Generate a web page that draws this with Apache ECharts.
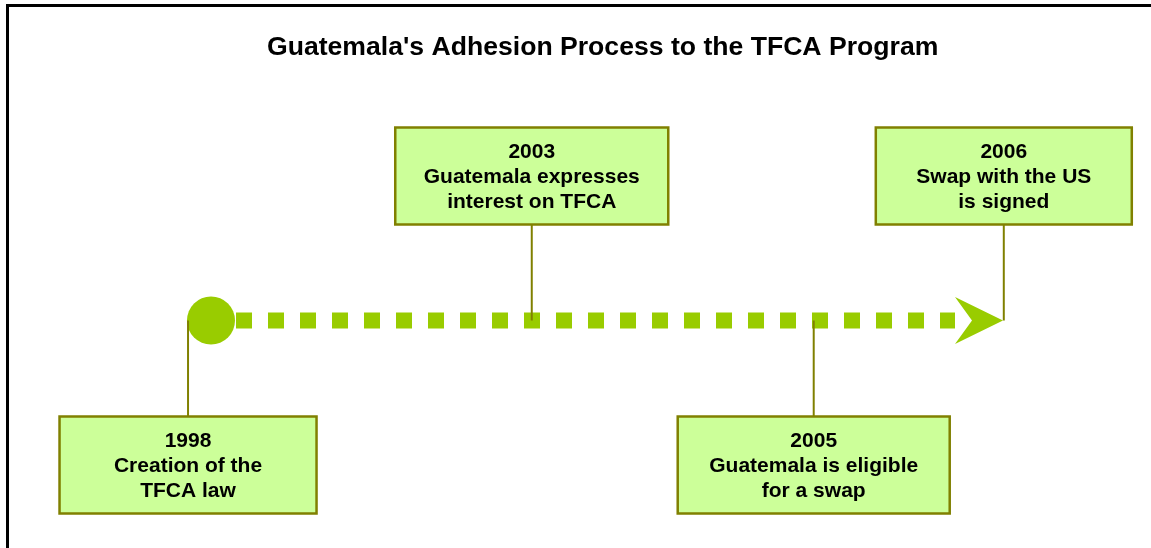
<!DOCTYPE html>
<html>
<head>
<meta charset="utf-8">
<script src="https://cdn.jsdelivr.net/npm/echarts@6/dist/echarts.min.js"></script>
<style>
html,body{margin:0;padding:0;background:#ffffff;}
#chart{width:1151px;height:548px;}
</style>
</head>
<body>
<div id="chart"></div>
<script>
// ---- data ----
const titleText = "Guatemala's Adhesion Process to the TFCA Program";
const years = ['1998', '2003', '2005', '2006'];
const descriptions = [
  'Creation of the\nTFCA law',
  'Guatemala expresses\ninterest on TFCA',
  'Guatemala is eligible\nfor a swap',
  'Swap with the US\nis signed'
];
// place of each event along the timeline (0 = start dot, 100 = arrow tip)
const timelinePos = [-2.9, 40.5, 76.1, 100.1];
// 1 = box above the timeline, -1 = box below
const boxSide = [-1, 1, -1, 1];
const timelineStart = 0;
const timelineEnd = 100;

// ---- styles ----
const FONT = '"Liberation Sans", Arial, Helvetica, sans-serif';
const GREEN = '#99CC00';
const OLIVE = '#808000';
const BOX_FILL = '#CCFF99';
const BOX_W = [257, 273, 272, 256];
const BOX_H = 97;

const chart = echarts.init(document.getElementById('chart'), null, {renderer: 'canvas'});

const eventData = years.map((y, i) => [timelinePos[i], boxSide[i], i]);

const option = {
  backgroundColor: '#ffffff',
  animation: false,
  title: {
    text: titleText,
    left: 262,
    top: 28,
    textStyle: {fontFamily: FONT, fontWeight: 'bold', fontSize: 26.6, lineHeight: 30, color: '#000000'}
  },
  graphic: [{
    type: 'rect',
    shape: {x: 7.5, y: 5.5, width: 2000, height: 2000},
    style: {fill: 'none', stroke: '#000000', lineWidth: 3},
    silent: true,
    z: 100
  }],
  grid: {left: 211, width: 792, top: 176, height: 289},
  xAxis: {type: 'value', min: 0, max: 100, show: false},
  yAxis: {type: 'value', min: -1, max: 1, show: false},
  series: [
    {
      type: 'custom',
      clip: false,
      z: 2,
      data: [[timelineStart, timelineEnd]],
      renderItem: function (params, api) {
        const p0 = api.coord([api.value(0), 0]);
        const p1 = api.coord([api.value(1), 0]);
        const headLen = 48, headHalf = 23.5, notch = 31;
        return {
          type: 'group',
          children: [
            {type: 'line', shape: {x1: p0[0], y1: p0[1], x2: p1[0] - headLen, y2: p1[1]},
             style: {stroke: GREEN, lineWidth: 16, lineDash: [16, 16], lineDashOffset: 7, lineCap: 'butt'}},
            {type: 'polygon', shape: {points: [
               [p1[0] - headLen, p1[1] - headHalf], [p1[0], p1[1]],
               [p1[0] - headLen, p1[1] + headHalf], [p1[0] - notch, p1[1]]]},
             style: {fill: GREEN}},
            {type: 'circle', shape: {cx: p0[0], cy: p0[1], r: 24}, style: {fill: GREEN}}
          ]
        };
      }
    },
    {
      type: 'custom',
      clip: false,
      z: 5,
      data: eventData,
      renderItem: function (params, api) {
        const i = api.value(2);
        const s = api.value(1);
        const pc = api.coord([api.value(0), s]);
        const p0 = api.coord([api.value(0), 0]);
        const w = BOX_W[i], h = BOX_H;
        const edgeY = s > 0 ? pc[1] + h / 2 : pc[1] - h / 2;
        return {
          type: 'group',
          children: [
            {type: 'line', shape: {x1: p0[0], y1: p0[1], x2: p0[0], y2: edgeY},
             style: {stroke: OLIVE, lineWidth: 2}},
            {type: 'rect', shape: {x: pc[0] - w / 2, y: pc[1] - h / 2, width: w, height: h},
             style: {fill: BOX_FILL, stroke: OLIVE, lineWidth: 2.5}},
            {type: 'text', style: {
               text: years[i] + '\n' + descriptions[i],
               x: pc[0], y: pc[1] + 1, align: 'center', verticalAlign: 'middle',
               font: 'bold 21px ' + FONT, lineHeight: 25, fill: '#000000'}}
          ]
        };
      }
    }
  ]
};
chart.setOption(option);
</script>
</body>
</html>
